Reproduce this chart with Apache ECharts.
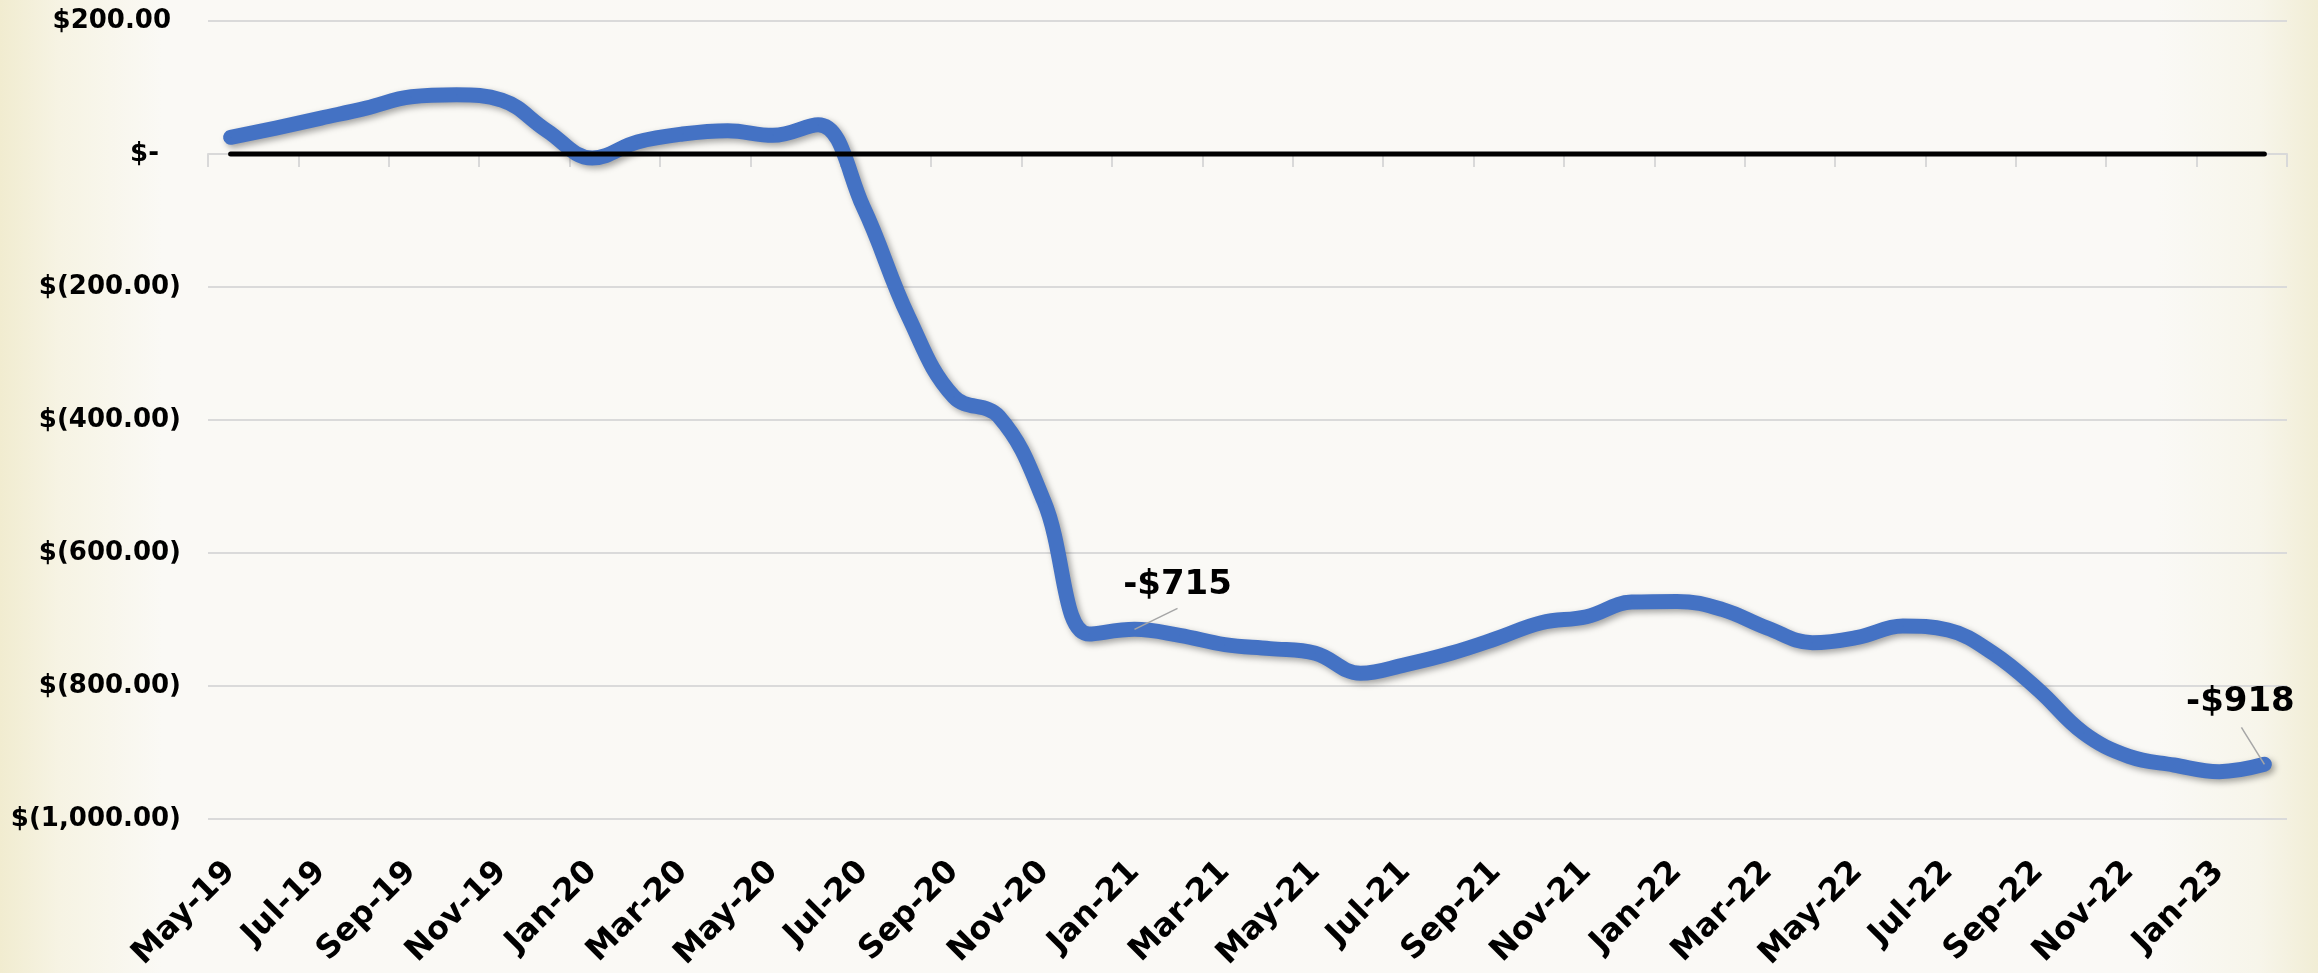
<!DOCTYPE html>
<html>
<head>
<meta charset="utf-8">
<script src="https://cdn.jsdelivr.net/npm/echarts@6/dist/echarts.min.js"></script>
<style>
  html, body { margin: 0; padding: 0; }
  body {
    width: 2318px; height: 973px; overflow: hidden;
    background: linear-gradient(to right, #f1ecd0 0%, #f6f3e3 2.5%, #faf9f5 7%, #faf9f6 93%, #f7f5ea 97.5%, #f1edd5 100%);
  }
  #chart { width: 2318px; height: 973px; }
</style>
</head>
<body>
<div id="chart"></div>
<script>
// ---- data ----
const categories = [
  'May-19','Jun-19','Jul-19','Aug-19','Sep-19','Oct-19','Nov-19','Dec-19',
  'Jan-20','Feb-20','Mar-20','Apr-20','May-20','Jun-20','Jul-20','Aug-20','Sep-20','Oct-20','Nov-20','Dec-20',
  'Jan-21','Feb-21','Mar-21','Apr-21','May-21','Jun-21','Jul-21','Aug-21','Sep-21','Oct-21','Nov-21','Dec-21',
  'Jan-22','Feb-22','Mar-22','Apr-22','May-22','Jun-22','Jul-22','Aug-22','Sep-22','Oct-22','Nov-22','Dec-22',
  'Jan-23','Feb-23'
];
const values = [
  25, 39, 54, 69, 86, 89, 81, 35,
  -6, 18, 30, 35, 28, 44, -80, -245, -365, -395, -523, -722,
  -715, -724, -738, -744, -751, -781, -768, -751, -729, -705, -696, -674,
  -673, -685, -713, -735, -727, -710, -716, -751, -806, -871, -906, -919,
  -929, -918
];
const zeroLine = categories.map(() => 0);
const labelledIndices = [20, 45];
const yTicks = { min: -1000, max: 200, step: 200 };

// ---- chart ----
const FONT = '"DejaVu Sans", "Liberation Sans", sans-serif';
const chart = echarts.init(document.getElementById('chart'), null, { renderer: 'canvas' });

const seriesData = values.map((v, i) => ({
  value: v,
  label: { show: labelledIndices.includes(i) }
}));

function fmtY(v) {
  if (v === 0) return '{z|$-}';
  const a = Math.abs(v).toLocaleString('en-US', { minimumFractionDigits: 2, maximumFractionDigits: 2 });
  if (v < 0) return '{n|$(' + a + ')}';
  return '{p|$' + a + '}';
}
const yRichBase = { fontFamily: FONT, fontWeight: 'bold', fontSize: 26, color: '#000' };

// offsets of label and leader line relative to the data point (style only)
const labelOffsets = { 20: { dx: 43, dy: -22, lx: 43, ly: -21 }, 45: { dx: -24, dy: -40, lx: -23, ly: -37 } };

chart.setOption({
  backgroundColor: 'transparent',
  animation: false,
  grid: { left: 208, right: 31, top: 21, bottom: 154, containLabel: false },
  xAxis: [
    {
      type: 'category', data: categories, boundaryGap: true, position: 'bottom',
      axisLine: { show: false, onZero: false },
      axisTick: { show: false },
      splitLine: { show: false },
      axisLabel: {
        interval: 1, rotate: 45, margin: 48,
        fontFamily: FONT, fontWeight: 'bold', fontSize: 32, color: '#000'
      }
    },
    {
      type: 'category', data: categories, boundaryGap: true, position: 'bottom',
      axisLine: { show: true, onZero: true, lineStyle: { color: '#d9d9d9', width: 2 } },
      axisTick: { show: true, interval: 1, length: 13, lineStyle: { color: '#d9d9d9', width: 2 } },
      axisLabel: { show: false },
      splitLine: { show: false }
    }
  ],
  yAxis: {
    type: 'value', min: yTicks.min, max: yTicks.max, interval: yTicks.step,
    axisLine: { show: false }, axisTick: { show: false },
    splitLine: { show: true, lineStyle: { color: '#dadada', width: 2 } },
    axisLabel: {
      margin: 27, formatter: fmtY,
      rich: {
        n: Object.assign({}, yRichBase),
        p: Object.assign({ padding: [0, 10, 0, 0] }, yRichBase),
        z: Object.assign({ padding: [0, 22, 0, 0] }, yRichBase)
      }
    }
  },
  series: [
    {
      name: 'Value', type: 'line', xAxisIndex: 0, data: seriesData,
      smooth: 0.4, symbol: 'circle', symbolSize: 1, showSymbol: true, showAllSymbol: true,
      itemStyle: { color: '#4472C4' },
      lineStyle: {
        color: '#4472C4', width: 15, cap: 'round', join: 'round',
        shadowColor: 'rgba(0,0,0,0.35)', shadowBlur: 6, shadowOffsetX: 3, shadowOffsetY: 3
      },
      label: {
        position: 'top', distance: 5,
        fontFamily: FONT, fontWeight: 'bold', fontSize: 34, color: '#000',
        formatter: p => '-$' + Math.abs(p.value)
      },
      labelLine: { show: false },
      labelLayout: function (p) {
        const o = labelOffsets[p.dataIndex];
        return o ? { dx: o.dx, dy: o.dy } : {};
      },
      emphasis: { disabled: true },
      z: 3
    },
    {
      name: 'Zero', type: 'line', xAxisIndex: 0, data: zeroLine,
      symbol: 'none', smooth: false,
      lineStyle: { color: '#000', width: 5, cap: 'round' },
      emphasis: { disabled: true },
      z: 4
    }
  ]
});

// leader lines from each labelled point (positions via the chart's own scales)
const leaders = labelledIndices.map(i => {
  const p = chart.convertToPixel({ xAxisIndex: 0, yAxisIndex: 0 }, [i, values[i]]);
  const o = labelOffsets[i];
  return {
    type: 'line', z: 10,
    shape: { x1: p[0], y1: p[1], x2: p[0] + o.lx, y2: p[1] + o.ly },
    style: { stroke: '#a6a6a6', lineWidth: 1.5 }
  };
});
chart.setOption({ graphic: leaders });
</script>
</body>
</html>
